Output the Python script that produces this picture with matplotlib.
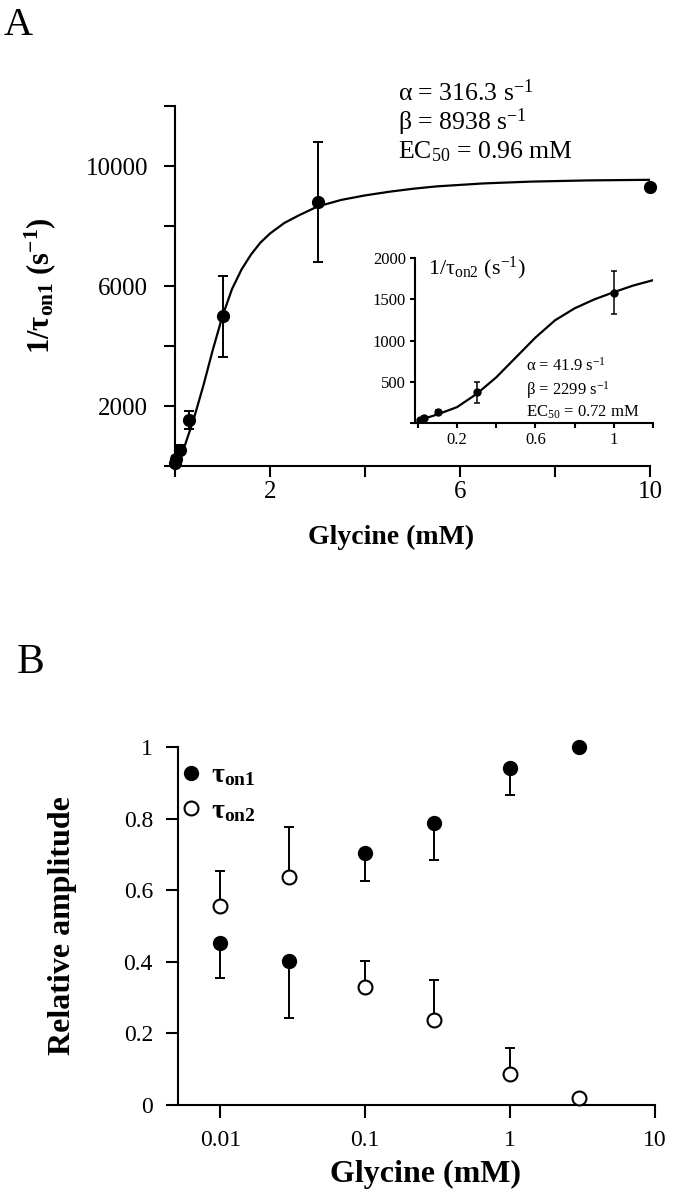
import numpy as np
import matplotlib
matplotlib.use('Agg')
import matplotlib.pyplot as plt

# 字体: Times 风格
plt.rcParams['font.family'] = ['Liberation Serif', 'DejaVu Serif']
plt.rcParams['mathtext.fontset'] = 'custom'
plt.rcParams['mathtext.rm'] = 'Liberation Serif'
plt.rcParams['mathtext.it'] = 'Liberation Serif'
plt.rcParams['mathtext.bf'] = 'Liberation Serif:bold'
plt.rcParams['axes.linewidth'] = 1.5

# A: 1/tau_on1
gly_a = [0.01, 0.03, 0.1, 0.3, 1, 3, 10]
rate1 = [100, 250, 550, 1530, 5000, 8800, 9300]
rate1_err = [60, 100, 150, 300, 1350, 2000, 0]
fit1_x = [0, 0.2, 0.4, 0.6, 0.8, 1.0, 1.2, 1.4, 1.6, 1.8, 2.0, 2.3, 2.6, 3.0,
          3.5, 4, 4.5, 5, 5.5, 6.5, 7.5, 8.7, 10]
fit1_y = [0, 650, 1600, 2700, 3900, 5000, 5900, 6550, 7050, 7450, 7750, 8100,
          8350, 8650, 8870, 9020, 9140, 9240, 9320, 9420, 9480, 9520, 9540]

# 插图: 1/tau_on2
gly_in = [0.01, 0.03, 0.1, 0.3, 1]
rate2 = [35, 60, 130, 370, 1580]
rate2_err = [15, 20, 30, 130, 260]
fit2_x = [0, 0.1, 0.2, 0.3, 0.4, 0.5, 0.6, 0.7, 0.8, 0.9, 1.0, 1.1, 1.2]
fit2_y = [30, 104, 193, 353, 554, 795, 1036, 1245, 1390, 1498, 1586, 1667, 1731]

# B: relative amplitude
gly_b = [0.01, 0.03, 0.1, 0.3, 1, 3]
amp1 = [0.453, 0.403, 0.704, 0.789, 0.94, 1.0]
amp1_err = [0.099, 0.16, 0.078, 0.104, 0.075, 0]   # 只有下方误差
amp2 = [0.556, 0.637, 0.329, 0.238, 0.087, 0.02]
amp2_err = [0.097, 0.14, 0.072, 0.11, 0.073, 0]    # 只有上方误差

fig = plt.figure(figsize=(6.76, 11.99), dpi=100)

def style(ax, ln, fs, pad):
    for s in ['top', 'right']:
        ax.spines[s].set_visible(False)
    ax.tick_params(direction='out', length=ln, width=1.5, labelsize=fs, pad=pad)

# ---- A ----
ax = fig.add_axes([0.2589, 0.6113, 0.7027, 0.3003])
style(ax, 8, 18, 11.5)
ax.tick_params(axis='x', pad=3)
ax.plot(fit1_x, fit1_y, color='black', lw=1.6, zorder=2)
ax.errorbar(gly_a, rate1, yerr=rate1_err, fmt='o', color='black', ms=8.5,
            capsize=3.5, elinewidth=1.4, capthick=1.4, clip_on=False, zorder=3)
ax.set_xlim(0, 10)
ax.set_ylim(0, 12000)
ax.set_xticks([0, 2, 4, 6, 8, 10])
ax.set_xticklabels(['', '2', '', '6', '', '10'])
ax.set_yticks([0, 2000, 4000, 6000, 8000, 10000, 12000])
ax.set_yticklabels(['', '2000', '', '6000', '', '10000', ''])
ax.set_ylabel('1/τ$_{\\mathbf{on1}}$ (s$^{\\mathbf{-1}}$)', fontsize=22,
              fontweight='bold', va='center')
ax.yaxis.set_label_coords(-0.284, 0.5)
ax.set_xlabel('Glycine (mM)', fontsize=20, fontweight='bold', va='center')
ax.xaxis.set_label_coords(0.455, -0.197)
ax.text(0.469, 1.036, 'α = 316.3 s$^{-1}$', transform=ax.transAxes, fontsize=18.5, va='center')
ax.text(0.469, 0.954, 'β = 8938 s$^{-1}$', transform=ax.transAxes, fontsize=18.5, va='center')
ax.text(0.469, 0.872, 'EC$_{50}$ = 0.96 mM', transform=ax.transAxes, fontsize=18.5, va='center')
fig.text(0.006, 0.994, 'A', fontsize=29, va='top')

# ---- 插图 ----
ins = fig.add_axes([0.6139, 0.6472, 0.352, 0.1376])
style(ins, 3.5, 12, 3)
ins.patch.set_alpha(0)
ins.plot(fit2_x, fit2_y, color='black', lw=1.6, zorder=2)
ins.errorbar(gly_in, rate2, yerr=rate2_err, fmt='o', color='black', ms=5,
             capsize=2, elinewidth=1.1, capthick=1.1, zorder=3)
ins.set_xlim(-0.015, 1.2)
ins.set_ylim(0, 2000)
ins.set_xticks([0, 0.2, 0.4, 0.6, 0.8, 1.0, 1.2])
ins.set_xticklabels(['', '0.2', '', '0.6', '', '1', ''])
ins.set_yticks([0, 500, 1000, 1500, 2000])
ins.set_yticklabels(['', '500', '1000', '1500', '2000'])
ins.text(0.054, 0.94, '1/τ$_{\\mathrm{on2}}$ (s$^{-1}$)', transform=ins.transAxes, fontsize=16, va='center')
ins.text(0.467, 0.35, 'α = 41.9 s$^{-1}$', transform=ins.transAxes, fontsize=12, va='center')
ins.text(0.467, 0.20, 'β = 2299 s$^{-1}$', transform=ins.transAxes, fontsize=12, va='center')
ins.text(0.467, 0.067, 'EC$_{50}$ = 0.72 mM', transform=ins.transAxes, fontsize=12, va='center')

# ---- B ----
bx = fig.add_axes([0.2633, 0.0784, 0.7056, 0.2986])
style(bx, 9, 17, 9)
bx.set_xscale('log')
zero = [0] * len(gly_b)
bx.errorbar(gly_b, amp1, yerr=[amp1_err, zero], fmt='none', ecolor='black',
            capsize=3.5, elinewidth=1.4, capthick=1.4, zorder=2)
bx.errorbar(gly_b, amp2, yerr=[zero, amp2_err], fmt='none', ecolor='black',
            capsize=3.5, elinewidth=1.4, capthick=1.4, zorder=2)
h1, = bx.plot(gly_b, amp1, 'o', color='black', ms=10, zorder=4, clip_on=False)
h2, = bx.plot(gly_b, amp2, 'o', mfc='white', mec='black', mew=1.5, ms=10,
              zorder=4, clip_on=False)
bx.set_xlim(0.0051, 10)
bx.set_ylim(0, 1)
bx.set_xticks([0.01, 0.1, 1, 10])
bx.set_xticklabels(['0.01', '0.1', '1', '10'])
bx.minorticks_off()
bx.set_yticks([0, 0.2, 0.4, 0.6, 0.8, 1])
bx.set_yticklabels(['0', '0.2', '0.4', '0.6', '0.8', '1'])
bx.set_ylabel('Relative amplitude', fontsize=23, fontweight='bold', va='center')
bx.yaxis.set_label_coords(-0.243, 0.5)
bx.set_xlabel('Glycine (mM)', fontsize=23, fontweight='bold', va='center')
bx.xaxis.set_label_coords(0.518, -0.193)
bx.legend([h1, h2], ['τ$_{\\mathbf{on1}}$', 'τ$_{\\mathbf{on2}}$'],
          loc='upper left', bbox_to_anchor=(-0.048, 1.025), frameon=False,
          handlelength=0.8, handletextpad=0.3, labelspacing=0.35,
          prop={'size': 20, 'weight': 'bold'})
fig.text(0.025, 0.463, 'B', fontsize=30, va='top')

fig.savefig('out.png', dpi=100)
